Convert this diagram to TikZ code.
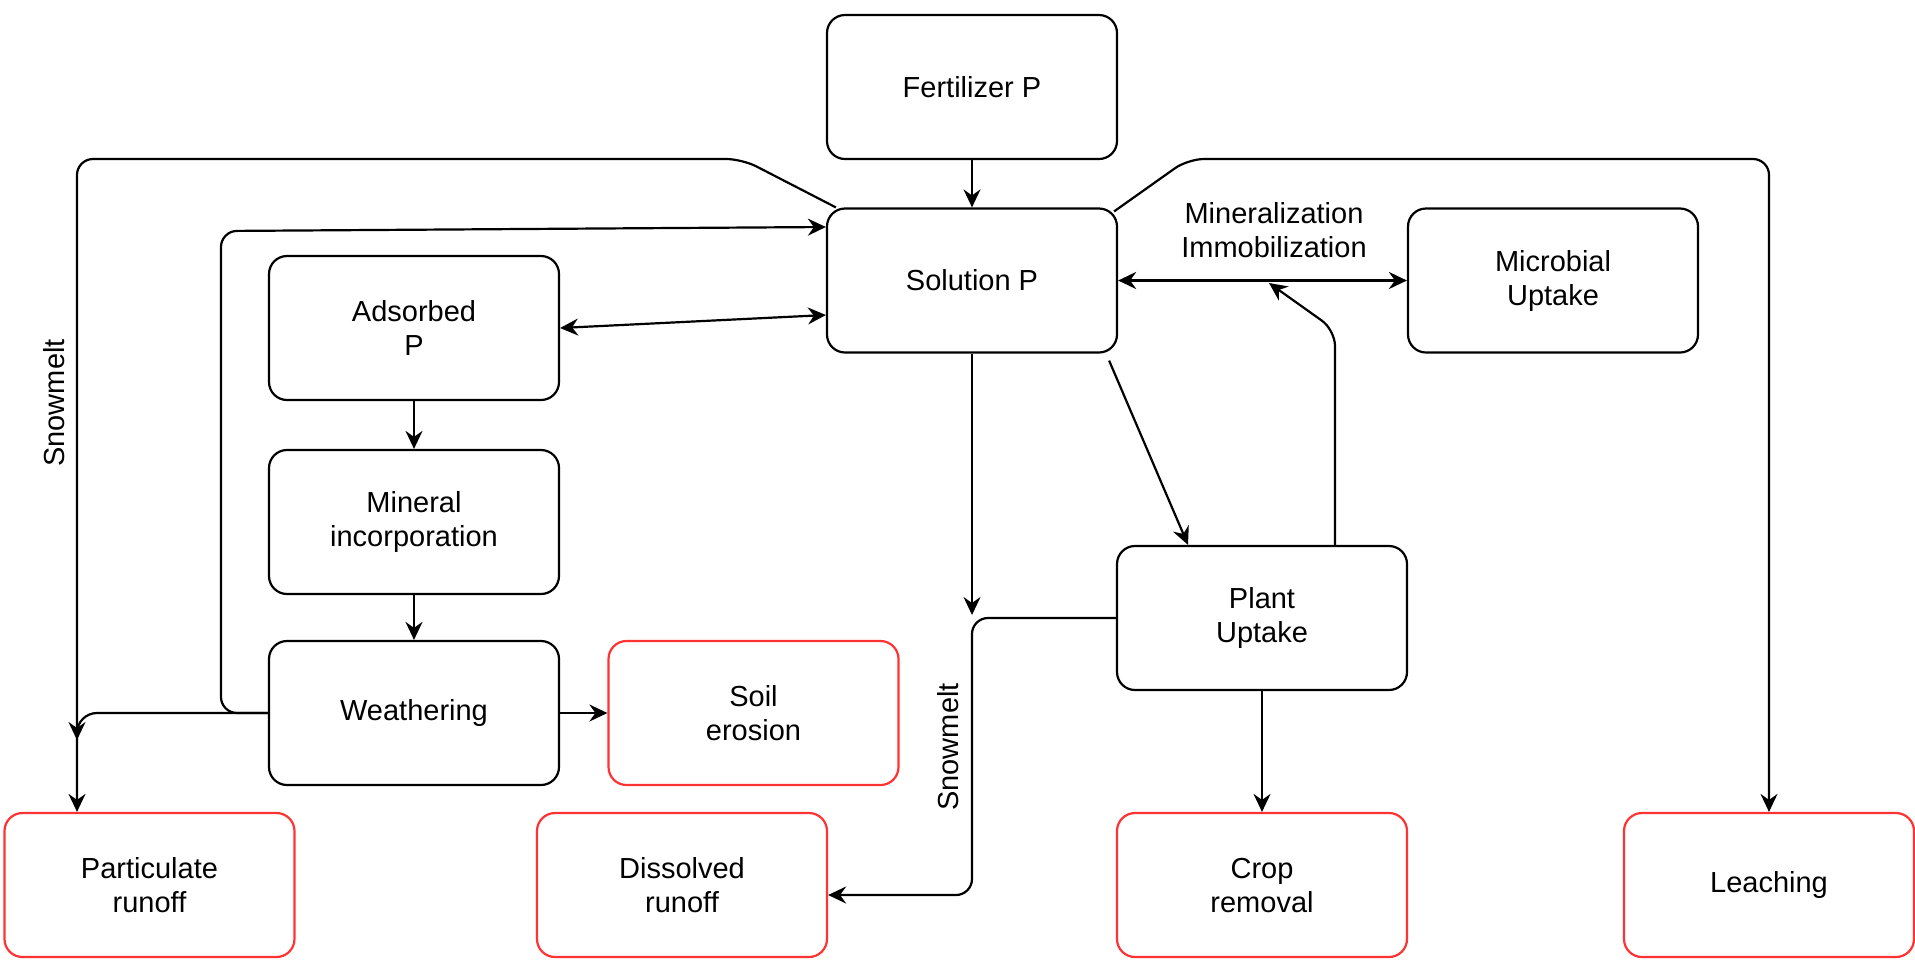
\documentclass[tikz,border=0pt]{standalone}
\usepackage{fontspec}
\setmainfont{Liberation Sans}
\usetikzlibrary{arrows.meta,calc}
\definecolor{redline}{HTML}{FF3333}
\begin{document}
\begin{tikzpicture}[x=0.5pt,y=-0.5pt,
  font=\fontsize{14.5pt}{17pt}\selectfont,
  box/.style={draw=black, line width=1.1pt, rounded corners=9pt, minimum width=145pt, minimum height=72pt, align=center, inner sep=0pt},
  rbox/.style={box, draw=redline},
  lbl/.style={align=center, inner sep=0pt},
  arr/.style={line width=1.1pt, -{Stealth[length=9pt,width=8.5pt,inset=3pt]}},
  darr/.style={line width=1.1pt, {Stealth[length=9pt,width=8.5pt,inset=3pt]}-{Stealth[length=9pt,width=8.5pt,inset=3pt]}}
]
\useasboundingbox (0,0) rectangle (1915,960);

% boxes
\node[box] (fert) at (972,87) {Fertilizer P};
\node[box] (sol) at (972,280.5) {Solution P};
\node[box] (mic) at (1553,280.5) {Microbial\\Uptake};
\node[box] (ads) at (414,328) {Adsorbed\\P};
\node[box] (min) at (414,522) {Mineral\\incorporation};
\node[box] (wea) at (414,713) {Weathering};
\node[rbox] (soil) at (753.5,713) {Soil\\erosion};
\node[box] (plant) at (1262,618) {Plant\\Uptake};
\node[rbox] (part) at (149.5,885) {Particulate\\runoff};
\node[rbox] (diss) at (682,885) {Dissolved\\runoff};
\node[rbox] (crop) at (1262,885) {Crop\\removal};
\node[rbox] (leach) at (1769,885) {Leaching};

% labels
\node[lbl] (minlbl) at (1274,230) {Mineralization\\Immobilization};
\node[lbl, rotate=90] (snow1) at (54,403) {Snowmelt};
\node[lbl, rotate=90] (snow2) at (948,747) {Snowmelt};

% helper coordinates
\coordinate (lc) at (77,159);
\coordinate (rc) at (1769,159);
\coordinate (solend) at (972,615);
\coordinate (wpend) at (77,740);
\coordinate (upend) at (1269,283);

% connectors
\draw[arr] (fert) -- (sol);
\draw[arr] (sol.south) -- (solend);
\draw[darr] ([yshift=-17.25pt]sol.west) -- (ads.east);
\draw[darr, line width=1.6pt] (sol.east) -- (mic.west);
\draw[arr] (ads) -- (min);
\draw[arr] (min) -- (wea);
\draw[arr] (wea) -- (soil);
\draw[arr] (plant) -- (crop);
\draw[arr] ([xshift=-4.5pt,yshift=-3.5pt]sol.south east) -- ([xshift=-37pt]plant.north);
\draw[arr, rounded corners=8pt] ([xshift=36.5pt]plant.north) -- (1335,330) -- (upend);
\draw[arr, rounded corners=8pt] (plant.west) -- (972,618) -- (972,895) -- ([yshift=-5pt]diss.east);
\draw[arr, rounded corners=8pt] ([xshift=5pt]sol.north west) -- (742,159) -- (lc) -- (lc |- part.north);
\draw[arr, rounded corners=8pt] ([xshift=-2pt,yshift=-2pt]sol.north east) -- (1188,159) -- (rc) -- (leach.north);
\draw[arr, rounded corners=8pt] (wea.west) -- (221,713) -- (221,231) -- ([yshift=26.75pt]sol.west);
\draw[arr, rounded corners=10pt] (wea.west) -- (77,713) -- (wpend);
\end{tikzpicture}
\end{document}
